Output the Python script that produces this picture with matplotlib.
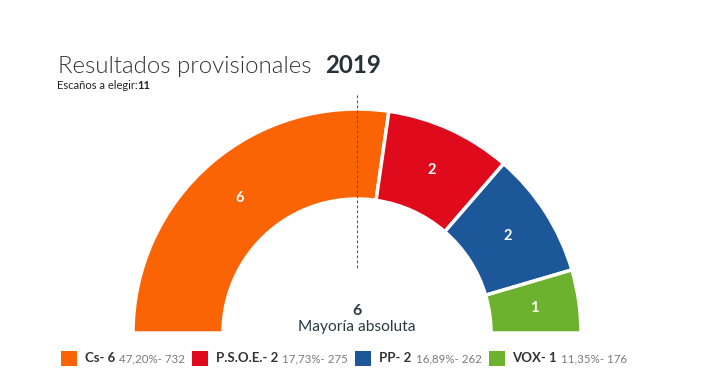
import matplotlib
matplotlib.use('Agg')
import matplotlib.pyplot as plt
import numpy as np

# data
parties = ['Cs', 'P.S.O.E.', 'PP', 'VOX']
seats = [6, 2, 2, 1]
pcts = ['47,20%', '17,73%', '16,89%', '11,35%']
votes = [732, 275, 262, 176]
colors = ['#fb6405', '#e00a1d', '#1c5799', '#6cb22f']
total_seats = 11
majority = 6
year = '2019'

W, H = 718, 392
plt.rcParams['font.family'] = ['Lato', 'DejaVu Sans']

fig = plt.figure(figsize=(W / 100, H / 100), dpi=100)
ax = fig.add_axes([0, 0, 1, 1])

# half donut, center in pixel coords (y up)
cx, cy = 357, H - 333
R, width = 224, 90
vals = seats + [sum(seats)]
wedges, _ = ax.pie(vals, colors=colors + ['none'], startangle=180, counterclock=False,
                   radius=R, center=(cx, cy), frame=True,
                   wedgeprops=dict(width=width, edgecolor='white', linewidth=2.5))
wedges[-1].set_edgecolor('none')
ax.set_xlim(0, W)
ax.set_ylim(0, H)
ax.set_aspect('equal')
ax.axis('off')

rmid = R - width / 2
for w, s in zip(wedges[:-1], seats):
    a = np.deg2rad((w.theta1 + w.theta2) / 2)
    ax.text(cx + rmid * np.cos(a), cy + rmid * np.sin(a), str(s), color='white',
            fontsize=10.5, fontweight='bold', ha='center', va='center')

# majority line
ax.plot([cx, cx], [H - 95, H - 268], color='#555555', lw=0.8, ls=(0, (2.5, 2)))
ax.text(cx, H - 311, str(majority), fontsize=11.5, fontweight='bold', color='#2b3a42',
        ha='center', va='center')
ax.text(cx, H - 327, 'Mayoría absoluta', fontsize=11.2, color='#2b3a42',
        ha='center', va='center')

fig.canvas.draw()
rend = fig.canvas.get_renderer()

# titles
t = ax.text(58, H - 73, 'Resultados provisionales', fontsize=17.3, fontweight=300,
            color='#333333', ha='left', va='baseline')
tw = t.get_window_extent(rend).width
ax.text(58 + tw + 14, H - 73, year, fontsize=17.3, fontweight='bold', color='#263238',
        ha='left', va='baseline')
t = ax.text(57, H - 89, 'Escaños a elegir:', fontsize=8, color='#222222',
            ha='left', va='baseline')
ax.text(57 + t.get_window_extent(rend).width, H - 89, str(total_seats), fontsize=8,
        fontweight='bold', color='#222222', ha='left', va='baseline')

# legend
x = 61
ly = H - 358.5
for p, s, pc, v, c in zip(parties, seats, pcts, votes, colors):
    ax.add_patch(plt.Rectangle((x, ly - 7.5), 16, 15, color=c, lw=0))
    x += 24
    t = ax.text(x, ly, f'{p}- {s}', fontsize=9.5, fontweight='bold', color='#333333',
                ha='left', va='center')
    x += t.get_window_extent(rend).width + 4
    t = ax.text(x, ly, f'{pc}- {v}', fontsize=8.3, color='#7a7a7a',
                ha='left', va='center')
    x += t.get_window_extent(rend).width + 7

fig.savefig('out.png', dpi=100)
